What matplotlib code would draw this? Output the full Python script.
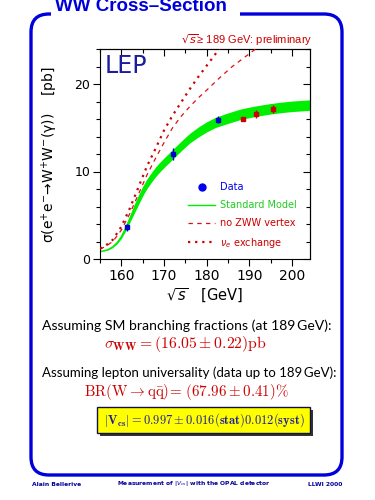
import matplotlib
matplotlib.use("Agg")
import matplotlib.pyplot as plt
from matplotlib.path import Path
from matplotlib.patches import PathPatch, Rectangle
from matplotlib.lines import Line2D
from matplotlib.ticker import MultipleLocator
from matplotlib.transforms import Affine2D

# ---------------- data ----------------
sm_energy = [155, 156, 157, 158, 159, 160, 161, 162, 163, 164, 165, 166, 167, 168, 169, 170,
             172, 174, 176, 178, 180, 182, 185, 188, 191, 194, 197, 200, 204.5]
sm_xsec = [0.85, 0.95, 1.1, 1.4, 1.85, 2.55, 3.5, 4.6, 5.7, 6.75, 7.75, 8.6, 9.3, 9.95, 10.5, 11.0,
           11.95, 12.9, 13.8, 14.5, 15.1, 15.6, 16.1, 16.55, 16.85, 17.1, 17.3, 17.45, 17.6]
sm_halfwidth = [0.03, 0.03, 0.05, 0.08, 0.12, 0.2, 0.3, 0.4, 0.5, 0.55, 0.55, 0.55, 0.55, 0.55, 0.55, 0.55,
                0.55, 0.55, 0.55, 0.57, 0.58, 0.58, 0.6, 0.6, 0.6, 0.6, 0.6, 0.6, 0.6]

nozww_energy = [155, 156, 158, 160, 162, 164, 166, 168, 170, 172, 174, 176, 178, 180, 183, 186, 189, 192]
nozww_xsec = [1.15, 1.35, 2.0, 3.3, 5.2, 7.4, 9.6, 11.5, 13.3, 15.0, 16.3, 17.4, 18.4, 19.3, 20.7, 22.0, 23.1, 24.2]

nue_energy = [155, 156, 158, 160, 162, 164, 166, 168, 170, 172, 174, 176, 178, 180, 182, 183.5]
nue_xsec = [1.2, 1.4, 2.2, 3.7, 5.8, 8.2, 10.6, 12.6, 14.7, 16.4, 17.9, 19.4, 20.8, 22.1, 23.4, 24.4]

data_energy = [161.3, 172.1, 182.7, 188.6, 191.6, 195.5]
data_xsec = [3.65, 12.0, 15.9, 16.05, 16.55, 17.15]
data_err = [0.4, 0.7, 0.4, 0.2, 0.45, 0.5]
data_prelim = [False, False, False, True, True, True]

x_ticks = [160, 170, 180, 190, 200]
y_ticks = [0, 10, 20]

legend_labels = ["Data", "Standard Model", "no ZWW vertex", r"$\nu_e$ exchange"]

# ---------------- figure ----------------
W, H = 375, 500
fig = plt.figure(figsize=(3.75, 5.0), dpi=100)
pix = Affine2D().scale(1.0 / W, -1.0 / H).translate(0, 1) + fig.transFigure

def fx(p):
    return p / W

def fy(p):
    return 1 - p / H

BLUE = "#0000dd"
RED = "#cc0000"
DRED = "#dd1111"
GREEN = "#00ee00"
DBLUE = "#1c1c9c"

# frame with rounded corners and gap for title
r = 18
L, R, T, B = 31, 342, 14, 475
verts = [(240, T), (R - r, T), (R, T), (R, T + r), (R, B - r), (R, B), (R - r, B),
         (L + r, B), (L, B), (L, B - r), (L, T + r), (L, T), (L + r, T), (L + r + 2, T)]
codes = [Path.MOVETO, Path.LINETO, Path.CURVE3, Path.CURVE3, Path.LINETO, Path.CURVE3, Path.CURVE3,
         Path.LINETO, Path.CURVE3, Path.CURVE3, Path.LINETO, Path.CURVE3, Path.CURVE3, Path.LINETO]
fig.add_artist(PathPatch(Path(verts, codes), transform=pix, fill=False, edgecolor=BLUE, lw=2.4,
                         capstyle="butt", joinstyle="round"))

fig.text(fx(55), fy(11), "WW Cross\u2013Section", family="Liberation Sans", weight="bold",
         fontsize=13.5, color=BLUE, va="baseline", ha="left")

# ---------------- axes ----------------
ax = fig.add_axes([fx(100), fy(259), fx(310) - fx(100), fy(49) - fy(259)])
ax.set_xlim(155, 204.2)
ax.set_ylim(0, 24)

lo = [c - h for c, h in zip(sm_xsec, sm_halfwidth)]
hi = [c + h for c, h in zip(sm_xsec, sm_halfwidth)]
ax.fill_between(sm_energy, lo, hi, color=GREEN, lw=0, zorder=2)
ax.plot(sm_energy, sm_xsec, color=GREEN, lw=1.0, zorder=2)
ax.plot(nozww_energy, nozww_xsec, color=DRED, lw=0.9, ls=(0, (3.5, 3.5)), zorder=3)
ax.plot(nue_energy, nue_xsec, color=RED, lw=1.6, ls=(0, (1, 2.2)), zorder=3)

for e, s, err, pre in zip(data_energy, data_xsec, data_err, data_prelim):
    c = RED if pre else "#0000cc"
    ax.errorbar([e], [s], yerr=[err], fmt="s", ms=3, color=c, ecolor=c, elinewidth=1.0,
                capsize=0, zorder=5)

ax.xaxis.set_major_locator(MultipleLocator(10))
ax.xaxis.set_minor_locator(MultipleLocator(5))
ax.yaxis.set_major_locator(MultipleLocator(10))
ax.yaxis.set_minor_locator(MultipleLocator(2))
ax.set_xticks(x_ticks)
ax.set_yticks(y_ticks)
ax.tick_params(axis="both", which="major", direction="out", length=5, width=0.8, pad=2)
ax.tick_params(axis="both", which="minor", direction="out", length=2.8, width=0.8)
ax.tick_params(axis="x", labelsize=10)
ax.tick_params(axis="y", labelsize=9)
for sp in ax.spines.values():
    sp.set_linewidth(0.8)

secx = ax.secondary_xaxis("top")
secx.xaxis.set_major_locator(MultipleLocator(10))
secx.xaxis.set_minor_locator(MultipleLocator(5))
secx.tick_params(axis="x", which="major", direction="in", length=5, width=0.8, labeltop=False)
secx.tick_params(axis="x", which="minor", direction="in", length=2.8, width=0.8)
secy = ax.secondary_yaxis("right")
secy.yaxis.set_major_locator(MultipleLocator(10))
secy.yaxis.set_minor_locator(MultipleLocator(2))
secy.tick_params(axis="y", which="major", direction="in", length=5, width=0.8, labelright=False)
secy.tick_params(axis="y", which="minor", direction="in", length=2.8, width=0.8)

ax.text(0.02, 0.975, "LEP", transform=ax.transAxes, fontsize=17, color=DBLUE, va="top", ha="left")

handles = [Line2D([], [], ls="none", marker="o", ms=5, color="#0000ee"),
           Line2D([], [], color=GREEN, lw=1.0),
           Line2D([], [], color=DRED, lw=0.9, ls=(0, (3.5, 3.5))),
           Line2D([], [], color=RED, lw=1.6, ls=(0, (1, 2.2)))]
ax.legend(handles, legend_labels, loc="upper left", bbox_to_anchor=(0.42, 0.365), frameon=False,
          fontsize=7, labelcolor=["#0000ee", "#22cc22", RED, RED], handlelength=2.8,
          handletextpad=0.5, labelspacing=0.8, borderaxespad=0, borderpad=0)

fig.text(fx(312), fy(44.5), r"$\sqrt{s}$≥ 189 GeV: preliminary", family="Liberation Sans",
         fontsize=8, color=RED, ha="right", va="baseline", math_fontfamily="dejavusans")

fig.text(fx(50), fy(155), r"σ(e$^{+}$e$^{-}$→W$^{+}$W$^{-}$(γ))    [pb]", rotation=90,
         fontsize=10, ha="center", va="center", math_fontfamily="dejavusans")
fig.text(fx(205), fy(296), r"$\sqrt{s}$   [GeV]", fontsize=10.5, ha="center", va="center",
         math_fontfamily="dejavusans")

# ---------------- lower text ----------------
fig.text(fx(41.5), fy(326), "Assuming SM branching fractions (at 189\u2009GeV):", family="Lato",
         fontsize=10.1, ha="left", va="center")
fig.text(fx(185), fy(344), r"$\sigma_{\mathbf{WW}} = (16.05 \pm 0.22)\mathrm{pb}$", fontsize=11.3,
         color=RED, ha="center", va="center", math_fontfamily="cm")
fig.text(fx(41.5), fy(373), "Assuming lepton universality (data up to 189\u2009GeV):", family="Lato",
         fontsize=9.5, ha="left", va="center")
fig.text(fx(186), fy(392), r"$\mathrm{BR(W}\rightarrow\mathrm{q\bar{q})}\!=\,(67.96 \pm 0.41)\%$",
         fontsize=10.8, color=RED, ha="center", va="center", math_fontfamily="cm")

fig.add_artist(Rectangle((100, 410), 213, 26, transform=pix, facecolor="#333333", edgecolor="none"))
fig.add_artist(Rectangle((97, 407), 213, 26, transform=pix, facecolor="#ffff00", edgecolor="#111144", lw=1))
fig.text(fx(204), fy(420), r"$\mathbf{|V_{cs}| = 0.997 \pm 0.016(stat)0.012(syst)}$", fontsize=9,
         color=DBLUE, ha="center", va="center", math_fontfamily="cm")

# ---------------- footer ----------------
fig.text(fx(32), fy(484), "Alain Bellerive", fontsize=4.3, weight="bold", color="#000099",
         ha="left", va="center")
fig.text(fx(117), fy(484), r"Measurement of |$V_{cs}$| with the OPAL detector", fontsize=4.3,
         weight="bold", color="#000099", ha="left", va="center", math_fontfamily="dejavusans")
fig.text(fx(342), fy(484), "LLWI 2000", fontsize=4.3, weight="bold", color="#000099",
         ha="right", va="center")

fig.savefig("out.png", dpi=100)
